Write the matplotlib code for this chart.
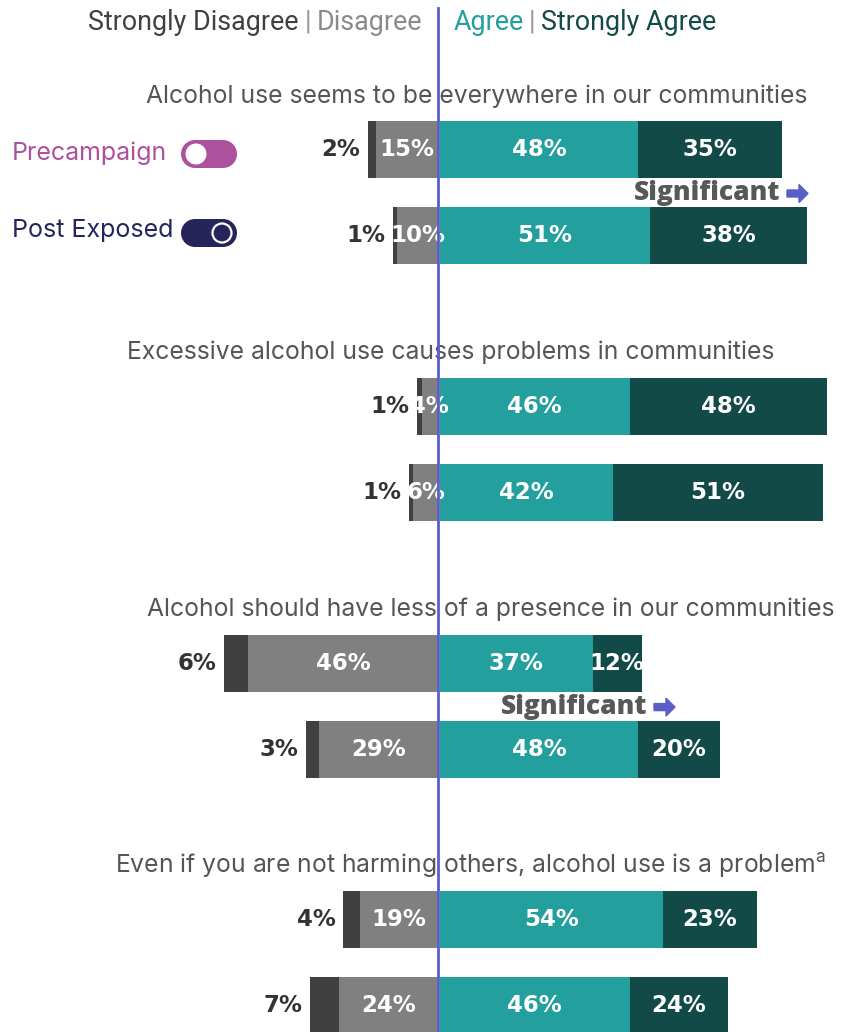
import matplotlib
matplotlib.use("Agg")
import matplotlib.pyplot as plt
from matplotlib.patches import Rectangle, Circle, FancyArrow

# ---------------- data ----------------
statements = [
    "Alcohol use seems to be everywhere in our communities",
    "Excessive alcohol use causes problems in communities",
    "Alcohol should have less of a presence in our communities",
    "Even if you are not harming others, alcohol use is a problem$^\\mathregular{a}$",
]
pre_strongly_disagree = [2, 1, 6, 4]
pre_disagree = [15, 4, 46, 19]
pre_agree = [48, 46, 37, 54]
pre_strongly_agree = [35, 48, 12, 23]

post_strongly_disagree = [1, 1, 3, 7]
post_disagree = [10, 6, 29, 24]
post_agree = [51, 42, 48, 46]
post_strongly_agree = [38, 51, 20, 24]

significant = [True, False, True, False]

# ---------------- style ----------------
C_SD = "#404040"
C_D = "#808080"
C_A = "#239F9D"
C_SA = "#124A48"
C_LINE = "#5A5FC6"
C_TITLE = "#555555"
C_PRE = "#AE519C"
C_POST = "#25245B"

W, H = 849, 1032
DPI = 100
PX_PER_PCT = 4.12
X0 = 438  # pixel of the zero line

fig = plt.figure(figsize=(W / DPI, H / DPI), dpi=DPI)
ax = fig.add_axes([0, 0, 1, 1])
ax.set_xlim(-X0 / PX_PER_PCT, (W - X0) / PX_PER_PCT)
ax.set_ylim(H, 0)
ax.axis("off")

ov = fig.add_axes([0, 0, 1, 1], zorder=5)
ov.set_xlim(0, W)
ov.set_ylim(H, 0)
ov.axis("off")
ov.patch.set_alpha(0)

renderer = fig.canvas.get_renderer()

def text_width_px(t):
    return t.get_window_extent(renderer=renderer).width

BAR_H = 57
ITEM_Y0 = 149.5
ITEM_STEP = 256.8
PAIR_GAP = 86

lab_font = dict(family=["DejaVu Sans"], fontsize=16.5, fontweight="bold")

def draw_bar(y, sd, d, a, sa):
    ax.barh(y, -d, left=0, height=BAR_H, color=C_D, zorder=2)
    ax.barh(y, -sd, left=-d, height=BAR_H, color=C_SD, zorder=2)
    ax.barh(y, a, left=0.5, height=BAR_H, color=C_A, zorder=2)
    ax.barh(y, sa, left=0.5 + a, height=BAR_H, color=C_SA, zorder=2)
    ax.text(-d - sd - 6.6, y, f"{sd}%", ha="center", va="center", color="#333333", zorder=4, **lab_font)
    ax.text(-d / 2, y, f"{d}%", ha="center", va="center", color="white", zorder=4, **lab_font)
    ax.text(0.5 + a / 2, y, f"{a}%", ha="center", va="center", color="white", zorder=4, **lab_font)
    ax.text(0.5 + a + sa / 2, y, f"{sa}%", ha="center", va="center", color="white", zorder=4, **lab_font)

title_x = [477, 451, 491, 470]
sig_x = [634, 501]
for i, st in enumerate(statements):
    y_pre = ITEM_Y0 + i * ITEM_STEP
    y_post = y_pre + PAIR_GAP
    ov.text(title_x[i], y_pre - 47, st, ha="center", va="baseline", color=C_TITLE,
            family=["Inter", "DejaVu Sans"], fontsize=17.8)
    draw_bar(y_pre, pre_strongly_disagree[i], pre_disagree[i], pre_agree[i], pre_strongly_agree[i])
    draw_bar(y_post, post_strongly_disagree[i], post_disagree[i], post_agree[i], post_strongly_agree[i])

# significance markers
sig_items = [i for i, s in enumerate(significant) if s]
for k, i in enumerate(sig_items):
    y = ITEM_Y0 + i * ITEM_STEP + 44
    ov.text(sig_x[k], y, "Significant", ha="left", va="center", color="#585858",
            family=["Open Sans", "DejaVu Sans"], fontsize=19, fontweight="heavy", zorder=6)
    ax_x = sig_x[k] + 153
    ov.add_patch(FancyArrow(ax_x, y, 12, 0, width=7, head_width=18, head_length=9,
                            length_includes_head=False, color=C_LINE, zorder=6))

# center line
ov.plot([X0, X0], [8, H], color=C_LINE, lw=2, zorder=7)

# header: sequential pieces
hdr = dict(family=["Roboto", "DejaVu Sans"], fontsize=19.4, va="center")
def seq(x, y, pieces):
    for s, c, gap in pieces:
        t = ov.text(x, y, s, ha="left", color=c, **hdr)
        x += text_width_px(t) + gap
    return x

seq(88, 22, [("Strongly Disagree", "#404040", 6), ("|", "#999999", 6), ("Disagree", "#8A8A8A", 0)])
seq(454, 22, [("Agree", C_A, 5), ("|", "#999999", 5), ("Strongly Agree", C_SA, 0)])

# legend toggles
leg_font = dict(family=["Inter", "DejaVu Sans"], fontsize=18, va="center")
ov.text(12, 153, "Precampaign", ha="left", color=C_PRE, **leg_font)
ov.add_patch(Rectangle((195, 140), 28, 28, fc=C_PRE, ec="none", zorder=6))
ov.add_patch(Circle((195, 154), 14, fc=C_PRE, ec="none", zorder=6))
ov.add_patch(Circle((223, 154), 14, fc=C_PRE, ec="none", zorder=6))
ov.add_patch(Circle((196, 154), 10.5, fc="white", ec="none", zorder=7))

ov.text(12, 231, "Post Exposed", ha="left", color=C_POST, **leg_font)
ov.add_patch(Rectangle((195, 219), 28, 28, fc=C_POST, ec="none", zorder=6))
ov.add_patch(Circle((195, 233), 14, fc=C_POST, ec="none", zorder=6))
ov.add_patch(Circle((223, 233), 14, fc=C_POST, ec="none", zorder=6))
ov.add_patch(Circle((222, 233), 9.5, fc=C_POST, ec="white", lw=1.6, zorder=7))

fig.savefig("out.png", dpi=DPI, facecolor="white")
